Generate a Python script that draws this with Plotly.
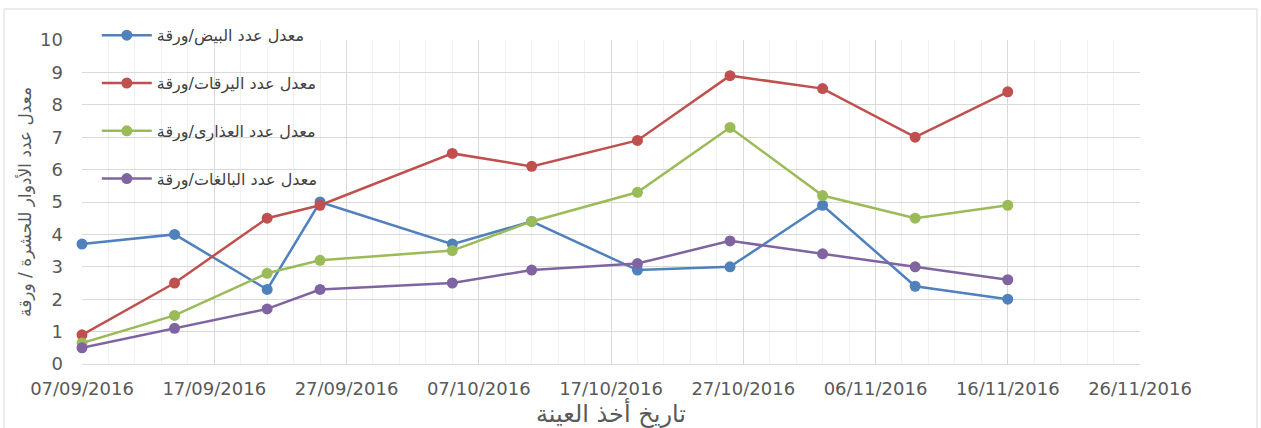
import plotly.graph_objects as go

dates = ["2016-09-07", "2016-09-14", "2016-09-21", "2016-09-25", "2016-10-05",
         "2016-10-11", "2016-10-19", "2016-10-26", "2016-11-02", "2016-11-09",
         "2016-11-16"]

eggs = [3.7, 4.0, 2.3, 5.0, 3.7, 4.4, 2.9, 3.0, 4.9, 2.4, 2.0]
larvae = [0.9, 2.5, 4.5, 4.9, 6.5, 6.1, 6.9, 8.9, 8.5, 7.0, 8.4]
pupae = [0.65, 1.5, 2.8, 3.2, 3.5, 4.4, 5.3, 7.3, 5.2, 4.5, 4.9]
adults = [0.5, 1.1, 1.7, 2.3, 2.5, 2.9, 3.1, 3.8, 3.4, 3.0, 2.6]

series_names = ["معدل عدد البيض/ورقة", "معدل عدد اليرقات/ورقة",
                "معدل عدد العذارى/ورقة", "معدل عدد البالغات/ورقة"]
series_values = [eggs, larvae, pupae, adults]
colors = ["#4F81BD", "#C0504D", "#9BBB59", "#8064A2"]

x_title = "تاريخ أخذ العينة"
y_title = "معدل عدد الأدوار للحشرة / ورقة"

fig = go.Figure()
for i, (name, vals, col) in enumerate(zip(series_names, series_values, colors)):
    fig.add_trace(go.Scatter(
        x=dates, y=vals, name=name, mode="lines+markers",
        line=dict(color=col, width=2.5),
        marker=dict(color=col, size=11),
        legendgroup=f"g{i}", cliponaxis=False,
    ))

tick_font = dict(family="DejaVu Sans", size=18, color="#595959")

fig.update_layout(
    width=1261, height=428,
    margin=dict(l=82, r=121, t=40, b=64),
    paper_bgcolor="white", plot_bgcolor="white",
    showlegend=True,
    legend=dict(
        x=0.014, y=1.067, xanchor="left", yanchor="top",
        bgcolor="rgba(0,0,0,0)",
        font=dict(family="DejaVu Sans", size=16, color="#404040"),
        traceorder="grouped", tracegroupgap=24,
        itemwidth=50,
    ),
    xaxis=dict(
        type="date", automargin=False,
        range=["2016-09-07", "2016-11-26"],
        tick0="2016-09-07", dtick=10 * 86400000,
        tickformat="%d/%m/%Y",
        tickfont=tick_font,
        showgrid=True, gridcolor="#D9D9D9", gridwidth=1,
        minor=dict(dtick=2 * 86400000, showgrid=True, gridcolor="#F0F0F0", gridwidth=1),
        showline=True, linecolor="#D9D9D9", linewidth=1,
        zeroline=False, ticks="", ticklabelstandoff=8,
        title=dict(text=x_title, font=dict(family="DejaVu Sans", size=24, color="#595959"), standoff=4),
    ),
    yaxis=dict(
        range=[0, 10], dtick=1, automargin=False,
        tickfont=tick_font,
        showgrid=True, gridcolor="#D9D9D9", gridwidth=1,
        zeroline=False, showline=False, ticks="", ticklabelstandoff=18,
        title=dict(text=y_title, font=dict(family="DejaVu Sans", size=17, color="#595959"), standoff=4),
    ),
    shapes=[dict(type="rect", xref="paper", yref="paper",
                 x0=-0.0737, x1=1.1106, y0=-0.25, y1=1.0957,
                 line=dict(color="#D9D9D9", width=1), fillcolor="rgba(0,0,0,0)",
                 layer="below")],
)

fig.write_html("out.html")
